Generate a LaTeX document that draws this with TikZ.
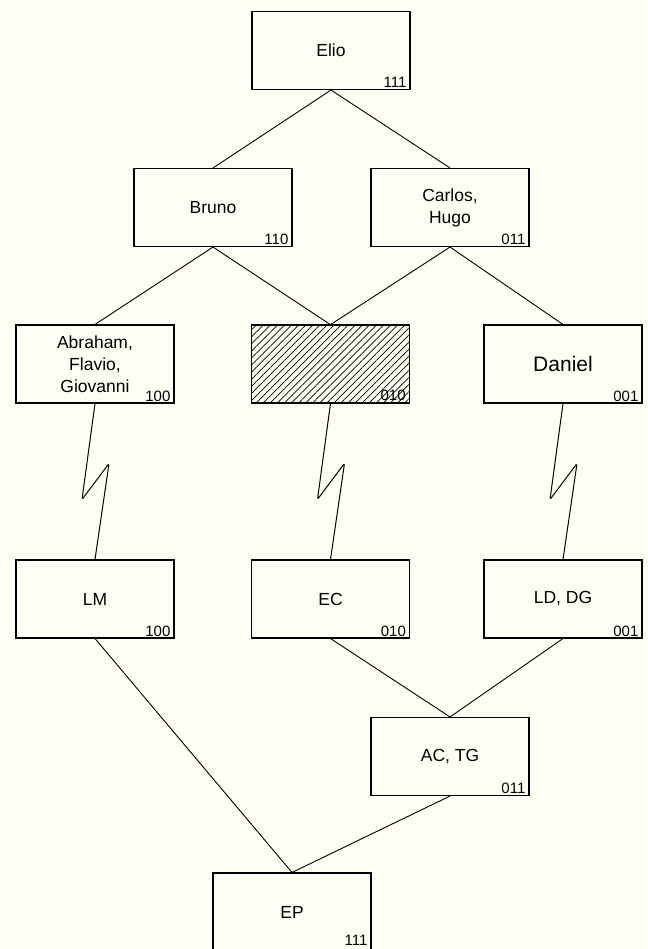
\documentclass[tikz,border=0pt]{standalone}
\usepackage{fontspec}
\setmainfont{Liberation Sans}
\usetikzlibrary{patterns.meta}
\definecolor{bg}{RGB}{254,254,244}
\begin{document}
\begin{tikzpicture}[x=1pt,y=-1pt,
  box/.style={draw, line width=1.1pt, minimum width=158pt, minimum height=78pt, inner sep=0pt, align=center, font=\fontsize{17.5}{22}\selectfont},
  num/.style={anchor=base east, inner sep=0pt, font=\fontsize{15}{15}\selectfont},
  link/.style={line width=0.9pt},
  zig/.style={line width=1pt, rounded corners=1.5pt}]
\fill[bg] (0,0) rectangle (647,949);
\useasboundingbox (0,0) rectangle (647,949);
% level 1
\node[box] (elio) at (331,50.5) {Elio};
% level 2
\node[box] (bruno) at (213,207.5) {Bruno};
\node[box] (carlos) at (450,207.5) {Carlos,\\Hugo};
% level 3
\node[box] (abr) at (95,364) {Abraham,\\Flavio,\\Giovanni};
\node[box, pattern={Lines[angle=45,distance=5pt,line width=0.7pt]}] (hat) at (330.5,364) {};
\node[box, font=\fontsize{21}{24}\selectfont] (dan) at (563,364) {Daniel};
% level 4
\node[box] (lm) at (95,599) {LM};
\node[box] (ec) at (330.5,599) {EC};
\node[box] (ld) at (563,599) {LD, DG};
% level 5
\node[box] (ac) at (450,756.5) {AC, TG};
% level 6
\node[box] (ep) at (292,912) {EP};
% numbers
\node[num] (n1) at ([xshift=-4pt,yshift=2.5pt]elio.south east) {111};
\node[num] (n2) at ([xshift=-4pt,yshift=2.5pt]bruno.south east) {110};
\node[num] (n3) at ([xshift=-4pt,yshift=2.5pt]carlos.south east) {011};
\node[num] (n4) at ([xshift=-4pt,yshift=2.5pt]abr.south east) {100};
\node[num] (n5) at ([xshift=-4pt,yshift=2.5pt]hat.south east) {010};
\node[num] (n6) at ([xshift=-4pt,yshift=2.5pt]dan.south east) {001};
\node[num] (n7) at ([xshift=-4pt,yshift=2.5pt]lm.south east) {100};
\node[num] (n8) at ([xshift=-4pt,yshift=2.5pt]ec.south east) {010};
\node[num] (n9) at ([xshift=-4pt,yshift=2.5pt]ld.south east) {001};
\node[num] (n10) at ([xshift=-4pt,yshift=2.5pt]ac.south east) {011};
\node[num] (n11) at ([xshift=-4pt,yshift=6pt]ep.south east) {111};
% connectors
\draw[link] (elio.south) -- (bruno.north);
\draw[link] (elio.south) -- (carlos.north);
\draw[link] (bruno.south) -- (abr.north);
\draw[link] (bruno.south) -- (hat.north);
\draw[link] (carlos.south) -- (hat.north);
\draw[link] (carlos.south) -- (dan.north);
\draw[zig] (abr.south) -- ++(-13,96) -- ++(27,-36) -- (lm.north);
\draw[zig] (hat.south) -- ++(-13,96) -- ++(27,-36) -- (ec.north);
\draw[zig] (dan.south) -- ++(-13,96) -- ++(27,-36) -- (ld.north);
\draw[link] (lm.south) -- (ep.north);
\draw[link] (ec.south) -- (ac.north);
\draw[link] (ld.south) -- (ac.north);
\draw[link] (ac.south) -- (ep.north);
\end{tikzpicture}
\end{document}
